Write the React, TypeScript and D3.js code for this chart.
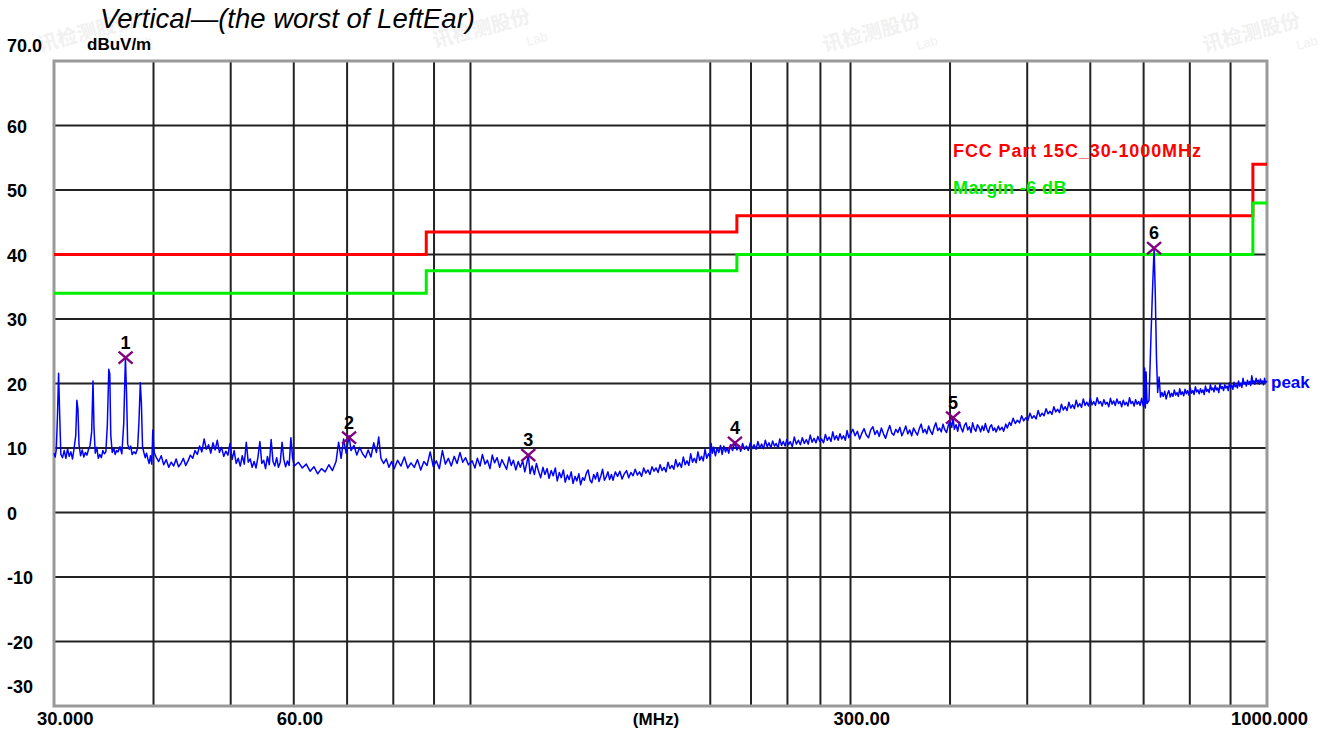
import * as d3 from 'd3';

// grid + axis
const freqGrid = [40, 50, 60, 70, 80, 90, 100, 200, 225, 250, 275, 300, 400, 500, 600, 700, 800, 900];
const freqLabelValues = [30, 60, 300, 1000];
const freqLabelText = ['30.000', '60.00', '300.00', '1000.000'];
const levelTicks = [70, 60, 50, 40, 30, 20, 10, 0, -10, -20, -30];
const levelTickText = ['70.0', '60', '50', '40', '30', '20', '10', '0', '-10', '-20', '-30'];

// FCC Part 15C limit and the -6 dB margin (step after each freq)
const limitFreq = [30, 88, 216, 960, 1000];
const limitLevel = [40, 43.5, 46, 54, 54];
const marginLevel = [34, 37.5, 40, 48, 48];

// marked peaks
const markerFreq = [36.9, 70.4, 118.2, 214.8, 403.5, 721.5];
const markerLevel = [24.0, 11.6, 8.9, 10.8, 14.7, 41.0];

// peak trace, [MHz, dBuV/m]
const trace30to40: [number, number][] = [
  [30.0, 9.2], [30.1, 8.6], [30.2, 9.8], [30.3, 14.8], [30.4, 21.6], [30.5, 15.0], [30.6, 9.0],
  [30.75, 8.5], [30.9, 9.6], [31.05, 8.4], [31.2, 9.9], [31.35, 8.7], [31.5, 9.4], [31.65, 8.3],
  [31.8, 10.0], [31.95, 12.0], [32.05, 17.4], [32.15, 16.0], [32.25, 10.5], [32.4, 8.8], [32.55, 9.7],
  [32.7, 8.6], [32.85, 9.3], [33.0, 8.9], [33.15, 9.8], [33.3, 10.4], [33.45, 12.5], [33.58, 20.4],
  [33.68, 13.0], [33.8, 9.2], [33.95, 10.1], [34.1, 8.4], [34.25, 9.0], [34.4, 8.5], [34.55, 9.6],
  [34.7, 9.1], [34.85, 9.4], [35.0, 13.5], [35.15, 22.2], [35.25, 21.5], [35.35, 12.0], [35.5, 9.3],
  [35.65, 10.0], [35.8, 9.0], [35.95, 9.6], [36.1, 9.4], [36.3, 10.2], [36.5, 9.1], [36.7, 13.8],
  [36.88, 24.0], [37.0, 18.5], [37.12, 10.6], [37.3, 9.8], [37.45, 10.3], [37.6, 9.0], [37.8, 9.4],
  [38.0, 9.1], [38.2, 10.0], [38.35, 14.0], [38.5, 20.1], [38.62, 17.0], [38.75, 10.2], [38.9, 9.3],
  [39.05, 8.5], [39.2, 9.2], [39.35, 8.3], [39.5, 7.6], [39.65, 8.8], [39.8, 7.5], [39.92, 12.8],
  [40.02, 10.0], [40.1, 9.2],
];

const trace40to100: [number, number][] = [
  [40.3, 8.6], [40.6, 7.9], [40.9, 8.8], [41.2, 7.4], [41.5, 8.2], [41.8, 7.0], [42.1, 7.8],
  [42.4, 7.2], [42.7, 8.3], [43.0, 7.1], [43.3, 7.6], [43.6, 8.4], [43.9, 7.3], [44.2, 8.0],
  [44.5, 8.9], [44.8, 8.4], [45.1, 9.6], [45.4, 9.0], [45.7, 10.3], [46.0, 9.4], [46.3, 11.4],
  [46.6, 9.8], [46.9, 10.5], [47.2, 9.2], [47.5, 10.8], [47.8, 9.7], [48.1, 11.2], [48.4, 9.3],
  [48.7, 10.1], [49.0, 8.7], [49.3, 9.5], [49.6, 8.9], [49.9, 10.7], [50.2, 8.2], [50.5, 9.6],
  [50.8, 7.6], [51.1, 8.4], [51.4, 7.2], [51.7, 8.8], [52.0, 7.5], [52.3, 10.9], [52.6, 7.8],
  [52.9, 8.3], [53.2, 7.0], [53.5, 7.9], [53.8, 6.9], [54.1, 8.6], [54.4, 11.0], [54.7, 7.6],
  [55.0, 8.1], [55.3, 6.8], [55.6, 8.7], [55.9, 7.4], [56.2, 11.3], [56.5, 7.9], [56.8, 7.2],
  [57.1, 8.5], [57.4, 7.0], [57.7, 7.8], [58.0, 10.9], [58.3, 8.2], [58.6, 7.1], [58.9, 8.0],
  [59.2, 7.3], [59.5, 11.6], [59.8, 8.4], [60.1, 7.2], [60.8, 7.8], [61.5, 6.9], [62.2, 7.5],
  [62.9, 6.4], [63.6, 7.1], [64.3, 6.0], [65.0, 6.8], [65.7, 6.3], [66.4, 7.4], [67.1, 6.5],
  [67.8, 7.9], [68.3, 10.9], [68.8, 8.4], [69.3, 11.4], [69.8, 9.2], [70.4, 11.9], [70.8, 9.6],
  [71.4, 10.4], [72.0, 8.9], [72.6, 10.1], [73.2, 9.1], [73.8, 8.5], [74.4, 9.7], [75.0, 8.6],
  [75.6, 10.8], [76.2, 9.3], [76.7, 11.7], [77.2, 8.4], [77.8, 7.6], [78.4, 8.3], [79.0, 7.0],
  [79.6, 7.9], [80.2, 6.8], [81.0, 8.1], [81.8, 7.2], [82.6, 8.6], [83.4, 6.9], [84.2, 7.7],
  [85.0, 7.0], [85.8, 8.2], [86.6, 6.6], [87.4, 7.9], [88.2, 7.3], [89.0, 9.4], [89.8, 7.1],
  [90.6, 8.0], [91.4, 6.8], [92.2, 9.6], [93.0, 7.5], [93.8, 8.4], [94.6, 7.2], [95.4, 8.7],
  [96.2, 7.6], [97.0, 9.3], [97.8, 7.8], [98.6, 8.5], [99.4, 7.4],
];

const trace100to300: [number, number][] = [
  [100.5, 8.0], [101.3, 6.9], [102.0, 8.4], [102.8, 7.2], [103.5, 9.0], [104.3, 7.5], [105.0, 8.1],
  [105.8, 6.8], [106.5, 8.9], [107.2, 7.7], [108.0, 8.5], [108.8, 7.0], [109.5, 8.2], [110.3, 7.4],
  [111.0, 6.7], [111.8, 8.6], [112.5, 7.3], [113.2, 8.1], [114.0, 6.6], [114.8, 7.9], [115.5, 7.0],
  [116.3, 8.0], [117.0, 6.3], [117.6, 7.5], [118.2, 8.9], [118.8, 6.0], [119.5, 7.2], [120.3, 5.9],
  [121.0, 7.6], [121.8, 6.3], [122.5, 5.4], [123.3, 7.0], [124.0, 5.9], [124.8, 6.8], [125.5, 5.3],
  [126.3, 6.5], [127.0, 5.7], [127.8, 6.9], [128.5, 4.9], [129.3, 6.2], [130.0, 5.4], [130.8, 6.6],
  [131.5, 4.7], [132.3, 5.8], [133.0, 5.1], [133.8, 6.3], [134.5, 4.5], [135.3, 5.6], [136.0, 4.9],
  [136.8, 6.0], [137.5, 4.3], [138.3, 5.4], [139.0, 5.0], [139.8, 6.1], [140.5, 6.6], [141.3, 5.0],
  [142.0, 4.6], [142.8, 5.9], [143.5, 5.2], [144.3, 6.2], [145.0, 4.8], [145.8, 5.7], [146.5, 6.7],
  [147.3, 5.0], [148.0, 5.5], [148.8, 6.3], [149.5, 5.1], [150.3, 5.9], [151.0, 5.0], [152.0, 6.3],
  [153.0, 5.6], [154.0, 6.4], [155.0, 5.2], [156.0, 6.0], [157.0, 6.5], [158.0, 5.4], [159.0, 6.2],
  [160.0, 5.7], [161.0, 6.7], [162.0, 5.8], [163.0, 6.3], [164.0, 5.6], [165.0, 6.9], [166.0, 6.1],
  [167.0, 6.6], [168.0, 5.9], [169.0, 7.1], [170.0, 6.4], [171.0, 6.9], [172.0, 6.2], [173.0, 7.4],
  [174.0, 6.5], [175.0, 7.0], [176.0, 6.3], [177.0, 7.8], [178.0, 6.8], [179.0, 7.3], [180.0, 6.7],
  [181.0, 8.2], [182.0, 7.1], [183.0, 7.7], [184.0, 7.0], [185.0, 8.6], [186.0, 7.4], [187.0, 8.0],
  [188.0, 7.3], [189.0, 9.1], [190.0, 7.8], [191.0, 8.4], [192.0, 7.7], [193.0, 9.4], [194.0, 8.1],
  [195.0, 8.7], [196.0, 8.0], [197.0, 9.8], [198.0, 8.4], [199.0, 9.1], [200.0, 8.6], [200.5, 10.7],
  [201.3, 9.2], [202.0, 10.1], [203.0, 8.8], [204.0, 10.0], [205.0, 9.3], [206.0, 10.4], [207.0, 9.0],
  [208.0, 10.3], [209.0, 9.4], [210.0, 10.0], [211.0, 9.2], [212.0, 10.5], [213.3, 9.6], [214.8, 10.9],
  [216.0, 9.7], [217.2, 10.4], [218.4, 9.5], [219.6, 10.7], [220.8, 9.8], [222.0, 10.3], [223.2, 9.6],
  [224.5, 10.8], [225.8, 9.9], [227.0, 10.5], [228.3, 9.8], [229.5, 11.0], [230.8, 10.0], [232.0, 10.6],
  [233.3, 9.9], [234.5, 11.2], [235.8, 10.2], [237.0, 10.8], [238.3, 10.0], [239.5, 11.1], [240.8, 10.3],
  [242.0, 10.7], [243.3, 10.0], [244.5, 11.4], [245.8, 10.4], [247.0, 11.0], [248.3, 10.3], [249.5, 11.3],
  [250.8, 10.5], [252.0, 11.0], [253.5, 10.2], [255.0, 11.7], [256.5, 10.6], [258.0, 11.2], [259.5, 10.5],
  [261.0, 11.6], [262.5, 10.7], [264.0, 11.3], [265.5, 10.6], [267.0, 12.0], [268.5, 10.9], [270.0, 11.5],
  [271.5, 10.8], [273.0, 11.8], [274.5, 11.0], [276.0, 11.4], [277.5, 10.8], [279.0, 12.1], [280.5, 11.2],
  [282.0, 11.7], [283.5, 11.0], [285.0, 12.5], [286.5, 11.3], [288.0, 11.9], [289.5, 11.2], [291.0, 12.2],
  [292.5, 11.4], [294.0, 11.9], [295.5, 11.2], [297.0, 12.7], [298.5, 11.6], [300.0, 12.2],
];

const trace300to1000: [number, number][] = [
  [302, 12.9], [304, 11.9], [306, 12.6], [308, 11.4], [310, 12.3], [312, 13.0], [314, 12.0],
  [316, 11.6], [318, 12.8], [320, 13.3], [322, 12.1], [324, 12.7], [326, 11.8], [328, 13.1],
  [330, 12.2], [332, 11.5], [334, 12.6], [336, 13.5], [338, 12.3], [340, 12.0], [342, 12.9],
  [344, 12.4], [346, 13.2], [348, 11.9], [350, 12.6], [352, 13.4], [354, 12.2], [356, 12.8],
  [358, 11.9], [360, 13.1], [362, 12.5], [364, 12.0], [366, 13.0], [368, 13.7], [370, 12.4],
  [372, 12.9], [374, 12.2], [376, 13.4], [378, 12.6], [380, 12.1], [382, 13.2], [384, 13.9],
  [386, 12.7], [388, 13.1], [390, 12.5], [392, 13.7], [394, 12.8], [396, 12.4], [398, 13.5],
  [400, 14.2], [402, 13.2], [403.5, 14.7], [405, 12.9], [407, 13.6], [409, 12.6], [411, 14.0],
  [413, 13.1], [415, 12.5], [417, 13.5], [419, 13.9], [421, 12.8], [423, 13.3], [425, 12.4],
  [427, 13.9], [429, 13.0], [431, 12.6], [433, 13.6], [435, 13.2], [437, 12.5], [439, 13.4],
  [441, 12.7], [443, 13.8], [445, 12.9], [447, 12.4], [449, 13.3], [451, 13.6], [453, 12.7],
  [455, 13.1], [457, 12.5], [460, 13.4], [462, 12.8], [465, 13.2], [467, 12.6], [470, 13.7],
  [472, 13.1], [475, 14.0], [477, 13.5], [480, 14.6], [483, 13.8], [486, 14.3], [489, 13.9],
  [492, 15.0], [495, 14.2], [498, 14.7], [501, 14.3], [504, 15.4], [507, 14.6], [510, 15.0],
  [513, 14.5], [516, 15.8], [519, 14.9], [522, 15.4], [525, 15.0], [528, 16.1], [531, 15.3],
  [534, 15.7], [537, 15.2], [540, 16.4], [543, 15.6], [546, 16.0], [549, 15.5], [552, 16.8],
  [555, 15.9], [558, 16.4], [561, 15.8], [564, 17.1], [567, 16.2], [570, 16.7], [573, 16.1],
  [576, 17.4], [579, 16.4], [582, 16.9], [585, 16.3], [588, 17.6], [591, 16.6], [594, 17.1],
  [597, 16.5], [600, 17.7], [603, 16.7], [606, 17.2], [609, 16.6], [612, 17.8], [615, 16.9],
  [618, 17.2], [621, 16.5], [624, 17.5], [627, 16.8], [630, 17.1], [633, 16.4], [636, 17.7],
  [639, 16.8], [642, 17.3], [645, 16.6], [648, 17.6], [651, 16.9], [654, 17.2], [657, 16.4],
  [660, 17.4], [663, 16.7], [666, 17.1], [669, 16.5], [672, 17.8], [675, 16.9], [678, 17.2],
  [681, 16.5], [684, 17.5], [687, 16.8], [690, 17.2], [693, 16.6], [696, 17.7], [698, 16.9],
  [700, 16.4], [702, 22.4], [703.5, 16.2], [705, 21.8], [707, 16.9], [711, 17.4], [715, 27.2],
  [718, 34.0], [721.5, 41.0], [724, 34.0], [726.5, 24.0], [729, 18.6], [732, 21.0], [735, 17.9],
  [738, 18.6], [741, 18.0], [744, 18.8], [747, 17.6], [750, 18.4], [753, 18.9], [756, 17.9],
  [759, 18.5], [762, 18.0], [765, 19.0], [768, 18.2], [771, 18.6], [774, 18.0], [777, 19.2],
  [780, 18.3], [783, 18.7], [786, 18.1], [789, 19.1], [792, 18.4], [795, 18.9], [798, 18.2],
  [801, 19.3], [804, 18.5], [807, 18.9], [810, 18.3], [813, 19.5], [816, 18.7], [819, 19.0],
  [822, 18.4], [825, 19.2], [828, 18.6], [831, 19.0], [834, 18.3], [837, 19.6], [840, 18.8],
  [843, 19.1], [846, 18.6], [849, 19.8], [852, 19.0], [855, 19.3], [858, 18.7], [861, 19.7],
  [864, 19.0], [867, 19.3], [870, 18.6], [873, 20.0], [876, 19.2], [879, 19.5], [882, 18.9],
  [885, 19.8], [888, 19.3], [891, 19.6], [894, 18.9], [897, 20.1], [900, 19.4], [903, 19.7],
  [906, 19.1], [909, 20.2], [912, 19.5], [915, 19.8], [918, 19.3], [921, 20.4], [924, 19.6],
  [927, 20.0], [930, 19.4], [933, 20.8], [936, 19.9], [939, 20.2], [942, 19.6], [945, 20.5],
  [948, 19.9], [951, 20.3], [954, 19.7], [957, 21.2], [960, 20.1], [963, 20.4], [966, 19.9],
  [969, 20.8], [972, 20.2], [975, 20.5], [978, 19.9], [981, 20.7], [984, 20.2], [987, 20.4],
  [990, 19.8], [993, 20.8], [996, 20.1], [1000, 20.4],
];

const W = 1327;
const H = 731;
const left = 54;
const right = 1267;
const top = 61;
const bottom = 706;
const font = 'Liberation Sans, Arial, sans-serif';

export default function App() {
  const x = d3.scaleLog().domain([30, 1000]).range([left, right]);
  const y = d3.scaleLinear().domain([-30, 70]).range([bottom, top]);

  const trace = [...trace30to40, ...trace40to100, ...trace100to300, ...trace300to1000];
  const traceLine = d3
    .line<[number, number]>()
    .x((d) => x(d[0]))
    .y((d) => y(d[1]));

  const stepLine = d3
    .line<number>()
    .x((_, i) => x(limitFreq[i]))
    .y((d) => y(d))
    .curve(d3.curveStepAfter);

  // faint lab watermark across the top
  const watermarks = [
    [40, 52],
    [435, 48],
    [825, 52],
    [1205, 52],
  ];

  return (
    <div style={{ position: 'absolute', left: 0, top: 0 }}>
      <svg width={W} height={H} style={{ display: 'block', background: '#fff' }}>
        {watermarks.map(([wx, wy], i) => (
          <g key={i} transform={`translate(${wx},${wy}) rotate(-15)`} fill="#f1f1f1">
            <text fontSize={20} fontWeight="bold" fontFamily="Noto Sans CJK SC">讯检测股份</text>
            <text x={90} y={22} fontSize={13} fontFamily={font}>Lab</text>
          </g>
        ))}

        <text x={100} y={28} fontFamily={font} fontStyle="italic" fontSize={27.5} fill="#000">
          Vertical—(the worst of LeftEar)
        </text>

        {/* grid */}
        {freqGrid.map((f) => (
          <line key={f} x1={x(f)} x2={x(f)} y1={top} y2={bottom} stroke="#222" strokeWidth={2} />
        ))}
        {levelTicks.slice(1, -1).map((v) => (
          <line key={v} x1={left} x2={right} y1={y(v)} y2={y(v)} stroke="#222" strokeWidth={2} />
        ))}
        <rect x={left} y={top} width={right - left} height={bottom - top} fill="none" stroke="#9a9a9a" strokeWidth={3} />

        {/* y labels */}
        {levelTicks.map((v, i) => {
          let ly = y(v) + 7;
          if (i === 0) ly = y(v) - 9;
          if (i === levelTicks.length - 1) ly = y(v) - 13;
          return (
            <text key={v} x={7} y={ly} fontFamily={font} fontWeight="bold" fontSize={18} fill="#000">
              {levelTickText[i]}
            </text>
          );
        })}
        <text x={87} y={50} fontFamily={font} fontWeight="bold" fontSize={17} fill="#000">
          dBuV/m
        </text>

        {/* x labels */}
        {freqLabelValues.map((f, i) => (
          <text
            key={f}
            x={x(f) + (i === freqLabelValues.length - 1 ? -36 : -17)}
            y={725}
            fontFamily={font}
            fontWeight="bold"
            fontSize={18.5}
            fill="#000"
          >
            {freqLabelText[i]}
          </text>
        ))}
        <text x={656} y={725} textAnchor="middle" fontFamily={font} fontWeight="bold" fontSize={17} fill="#000">
          (MHz)
        </text>

        {/* limit lines */}
        <path d={stepLine(limitLevel) ?? ''} fill="none" stroke="#ff0000" strokeWidth={3} />
        <path d={stepLine(marginLevel) ?? ''} fill="none" stroke="#00ee00" strokeWidth={3} />
        <text x={953} y={157} fontFamily={font} fontWeight="bold" fontSize={18} letterSpacing={0.9} fill="#ff0000">
          FCC Part 15C_30-1000MHz
        </text>
        <text x={953} y={194} fontFamily={font} fontWeight="bold" fontSize={18} letterSpacing={0.4} fill="#00ee00">
          Margin -6 dB
        </text>

        {/* trace */}
        <path d={traceLine(trace) ?? ''} fill="none" stroke="#0000ff" strokeWidth={1.5} strokeLinejoin="round" />
        <text x={1271} y={388} fontFamily={font} fontWeight="bold" fontSize={17} fill="#0000ff">
          peak
        </text>

        {/* markers */}
        {markerFreq.map((f, i) => {
          const mx = x(f);
          const my = y(markerLevel[i]);
          return (
            <g key={i}>
              <path
                d={`M${mx - 7},${my - 6}L${mx + 7},${my + 6}M${mx - 7},${my + 6}L${mx + 7},${my - 6}`}
                stroke="#800080"
                strokeWidth={2.4}
              />
              <text x={mx} y={my - 9} textAnchor="middle" fontFamily={font} fontWeight="bold" fontSize={18} fill="#000">
                {i + 1}
              </text>
            </g>
          );
        })}
      </svg>
    </div>
  );
}
